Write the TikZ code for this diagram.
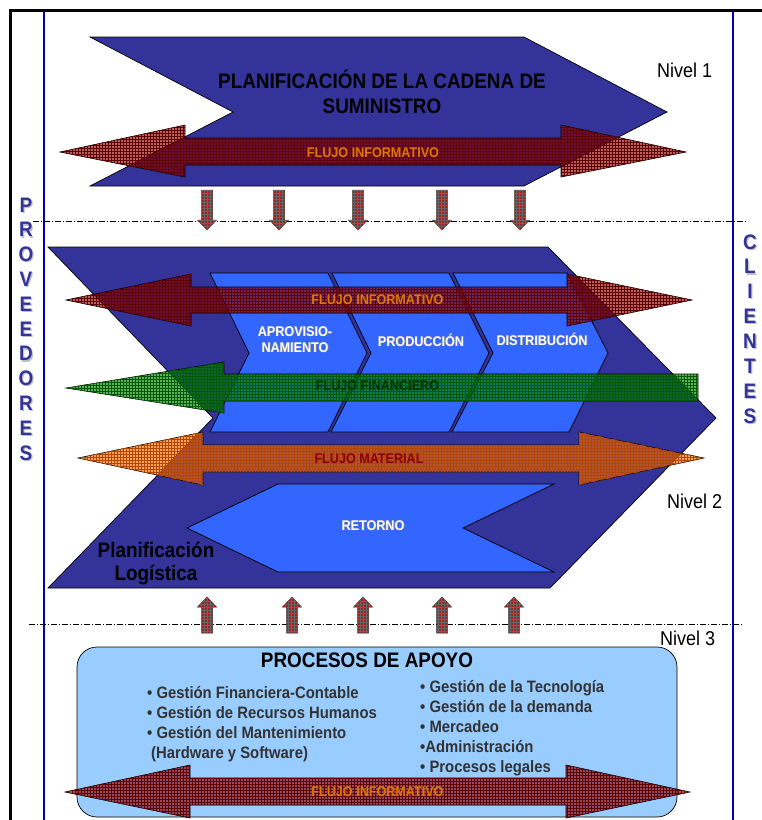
\documentclass[tikz,border=0pt]{standalone}
\usepackage{fontspec}
\setmainfont{Liberation Sans}[FakeStretch=0.9]
\usetikzlibrary{patterns}
\definecolor{navy}{HTML}{333399}
\definecolor{chev}{HTML}{3366FF}
\definecolor{boxblue}{HTML}{99CCFF}
\definecolor{flred}{HTML}{8B0000}
\definecolor{flgreen}{HTML}{008000}
\definecolor{florange}{HTML}{FF6600}
\definecolor{lblorange}{HTML}{E07800}
\definecolor{lblgreen}{HTML}{003300}
\definecolor{lblred}{HTML}{8B0000}
\definecolor{smred}{HTML}{A52222}
\definecolor{sideblue}{HTML}{333399}
\definecolor{framebl}{HTML}{0000BB}
\definecolor{bultxt}{HTML}{333333}
\begin{document}
\begin{tikzpicture}[x=1pt,y=-1pt,
  blk/.style={draw=black,line width=0.7pt},
  flow/.style={fill=#1,fill opacity=0.62,draw=black,draw opacity=1,line width=0.6pt,
     postaction={pattern=grid,pattern color=#1!70!black}},
  smarr/.style={fill=smred,draw=black!80,line width=0.5pt,
     postaction={pattern=grid,pattern color=black!60}},
  lvl/.style={dash pattern=on 6pt off 2pt on 1pt off 2pt,line width=0.6pt},
  txt/.style={anchor=base,inner sep=0pt},
  fl/.style={txt,font=\bfseries\fontsize{14}{16}\selectfont},
  wl/.style={txt,font=\bfseries\fontsize{14}{16}\selectfont,text=white},
  sh/.style={txt,font=\bfseries\fontsize{14}{16}\selectfont,text=black!45},
  side/.style={txt,font=\bfseries\fontsize{21}{24}\selectfont,text=sideblue},
  sideshadow/.style={txt,font=\bfseries\fontsize{21}{24}\selectfont,text=black!25},
  nivel/.style={anchor=base west,inner sep=0pt,font=\fontsize{20}{24}\selectfont},
  bul/.style={anchor=base west,inner sep=0pt,font=\bfseries\fontsize{16.5}{20}\selectfont,text=bultxt}]
\useasboundingbox (0,0) rectangle (762,820);
% frame
\draw[line width=3pt] (10,820) -- (10,10) -- (762,10);
\draw[framebl,line width=1.1pt] (44,11) -- (44,820);
\draw[framebl,line width=1.1pt] (733,11) -- (733,820);
% side letters
\foreach \l [count=\i from 0] in {P,R,O,V,E,E,D,O,R,E,S} {
  \node[sideshadow] (pvs\i) at (27.2,213.2+24.8*\i) {\l};
  \node[side] (pv\i) at (26,212+24.8*\i) {\l};
}
\foreach \l [count=\i from 0] in {C,L,I,E,N,T,E,S} {
  \node[sideshadow] (cls\i) at (751.2,250.2+24.86*\i) {\l};
  \node[side] (cl\i) at (750,249+24.86*\i) {\l};
}
% level lines
\draw[lvl] (33,221) -- (747,221);
\draw[lvl] (29,624) -- (742,624);
% ---------- Level 1
\path[blk,fill=navy] (90,37) -- (524,37) -- (667,112) -- (524,186) -- (90,186) -- (233,112) -- cycle;
\node[txt,font=\bfseries\fontsize{21}{25}\selectfont] (t1a) at (382,88) {PLANIFICACIÓN DE LA CADENA DE};
\node[txt,font=\bfseries\fontsize{21}{25}\selectfont] (t1b) at (382,113) {SUMINISTRO};
\path[flow=flred] (60,152) -- (185,125) -- (185,138) -- (561,138) -- (561,125) -- (686,152) -- (561,177) -- (561,165) -- (185,165) -- (185,177) -- cycle;
\node[fl,text=lblorange] (fi1) at (373,157) {FLUJO INFORMATIVO};
\node[nivel] (n1) at (657,77) {Nivel 1};
% down arrows
\foreach \c in {207,279,358,442,520} {
  \path[smarr] (\c-5.5,190) -- (\c+5.5,190) -- (\c+5.5,220) -- (\c+9.5,220) -- (\c,230) -- (\c-9.5,220) -- (\c-5.5,220) -- cycle;
}
% ---------- Level 2
\path[blk,fill=navy] (48,247) -- (548,247) -- (716,418) -- (550,588) -- (48,588) -- (213,418) -- cycle;
\path[blk,fill=chev] (210,273) -- (328,273) -- (367,353) -- (328,432) -- (210,432) -- (249,353) -- cycle;
\path[blk,fill=chev] (332,273) -- (449,273) -- (489,353) -- (449,432) -- (331,432) -- (371,353) -- cycle;
\path[blk,fill=chev] (453,273) -- (567,273) -- (608,353) -- (569,432) -- (452,432) -- (493,353) -- cycle;
\path[blk,fill=chev] (278,484) -- (554,484) -- (463,528) -- (554,572) -- (278,572) -- (187,528) -- cycle;
\node[sh] (apS) at (295.8,336.8) {APROVISIO-};
\node[wl] (ap) at (295,336) {APROVISIO-};
\node[sh] (nmS) at (295.8,352.8) {NAMIENTO};
\node[wl] (nm) at (295,352) {NAMIENTO};
\node[sh] (prS) at (421.8,346.8) {PRODUCCIÓN};
\node[wl] (pr) at (421,346) {PRODUCCIÓN};
\node[sh] (diS) at (542.8,345.8) {DISTRIBUCIÓN};
\node[wl] (di) at (542,345) {DISTRIBUCIÓN};
\node[sh] (reS) at (373.8,530.8) {RETORNO};
\node[wl] (re) at (373,530) {RETORNO};
\path[flow=flred] (66,300) -- (191,274) -- (191,287) -- (567,287) -- (567,274) -- (692,300) -- (567,326) -- (567,313) -- (191,313) -- (191,326) -- cycle;
\path[flow=flgreen] (66,388) -- (224,362) -- (224,374) -- (698,374) -- (698,401) -- (224,401) -- (224,413) -- cycle;
\path[flow=florange] (78,458) -- (203,432) -- (203,445) -- (579,445) -- (579,432) -- (704,458) -- (579,485) -- (579,472) -- (203,472) -- (203,485) -- cycle;
\node[fl,text=lblorange] (fi2) at (377.5,304) {FLUJO INFORMATIVO};
\node[fl,text=lblgreen] (ff) at (377.5,390) {FLUJO FINANCIERO};
\node[fl,text=lblred] (fm) at (369,463) {FLUJO MATERIAL};
\node[txt,font=\bfseries\fontsize{21}{25}\selectfont] (pl1) at (156,557) {Planificación};
\node[txt,font=\bfseries\fontsize{21}{25}\selectfont] (pl2) at (156,580) {Logística};
\node[nivel] (n2) at (667,508) {Nivel 2};
% up arrows
\foreach \c in {207,292,363,442,514} {
  \path[smarr] (\c-5.5,633) -- (\c+5.5,633) -- (\c+5.5,607) -- (\c+9.5,607) -- (\c,597) -- (\c-9.5,607) -- (\c-5.5,607) -- cycle;
}
\node[nivel] (n3) at (660,645) {Nivel 3};
% ---------- Level 3
\path[blk,fill=boxblue,rounded corners=20pt] (77,647) rectangle (677,817);
\node[txt,font=\bfseries\fontsize{21}{25}\selectfont] (pa) at (367,667) {PROCESOS DE APOYO};
\node[bul] (b1) at (147,698) {• Gestión Financiera-Contable};
\node[bul] (b2) at (147,718) {• Gestión de Recursos Humanos};
\node[bul] (b3) at (147,738) {• Gestión del Mantenimiento};
\node[bul] (b4) at (151,758) {(Hardware y Software)};
\node[bul] (c1) at (420,692) {• Gestión de la Tecnología};
\node[bul] (c2) at (420,712) {• Gestión de la demanda};
\node[bul] (c3) at (420,732) {• Mercadeo};
\node[bul] (c4) at (420,752) {•Administración};
\node[bul] (c5) at (420,772) {• Procesos legales};
\path[flow=flred] (65,792) -- (190,765) -- (190,778) -- (566,778) -- (566,765) -- (690,792) -- (566,818) -- (566,805) -- (190,805) -- (190,818) -- cycle;
\node[fl,text=lblorange] (fi3) at (377.5,796) {FLUJO INFORMATIVO};
\end{tikzpicture}
\end{document}
